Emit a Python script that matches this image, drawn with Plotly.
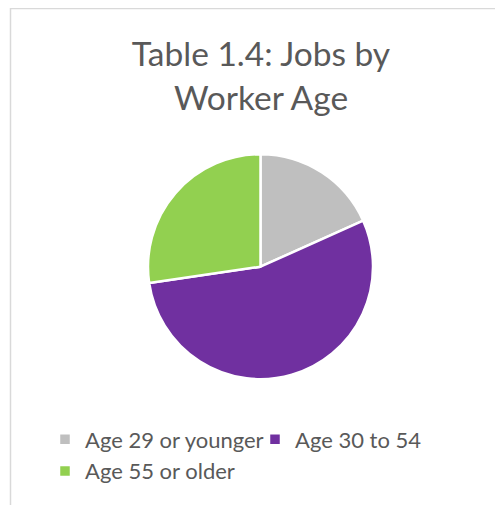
import plotly.graph_objects as go

categories = ["Age 29 or younger", "Age 30 to 54", "Age 55 or older"]
shares = [18.3, 54.4, 27.3]
colors = ["#BFBFBF", "#7030A0", "#92D050"]
title_text = "Table 1.4: Jobs by<br>Worker Age"

# page is offset by 8px body margin; work in figure coordinates
W, H = 495, 497
cx, cy, r = 252.5, 258.7, 112.5

fig = go.Figure(go.Pie(
    labels=categories,
    values=shares,
    marker=dict(colors=colors, line=dict(color="white", width=2.5)),
    sort=False,
    direction="clockwise",
    rotation=0,
    textinfo="none",
    domain=dict(x=[(cx - r) / W, (cx + r) / W], y=[(H - (cy + r)) / H, (H - (cy - r)) / H]),
))

fig.update_layout(
    width=W, height=H,
    margin=dict(l=0, r=0, t=0, b=0),
    paper_bgcolor="white",
    plot_bgcolor="white",
    font=dict(family="Lato, Open Sans, sans-serif", color="#595959"),
    title=dict(text=title_text, x=253 / W, xanchor="center", xref="paper",
               y=1 - 58 / H, yanchor="top", yref="container",
               font=dict(size=33.5, color="#595959", family="Lato, sans-serif")),
    legend=dict(orientation="h", x=37 / W, xanchor="left", y=1 - 410.5 / H, yanchor="top",
                font=dict(size=22, color="#595959"), traceorder="normal",
                entrywidth=165, entrywidthmode="pixels"),
    showlegend=True,
    shapes=[dict(type="rect", xref="paper", yref="paper",
                 x0=2.5 / W, x1=1.05, y0=-0.05, y1=1 - 0.5 / H,
                 line=dict(color="#D9D9D9", width=1.5), fillcolor="rgba(0,0,0,0)", layer="below")],
)

fig.write_html("out.html")
